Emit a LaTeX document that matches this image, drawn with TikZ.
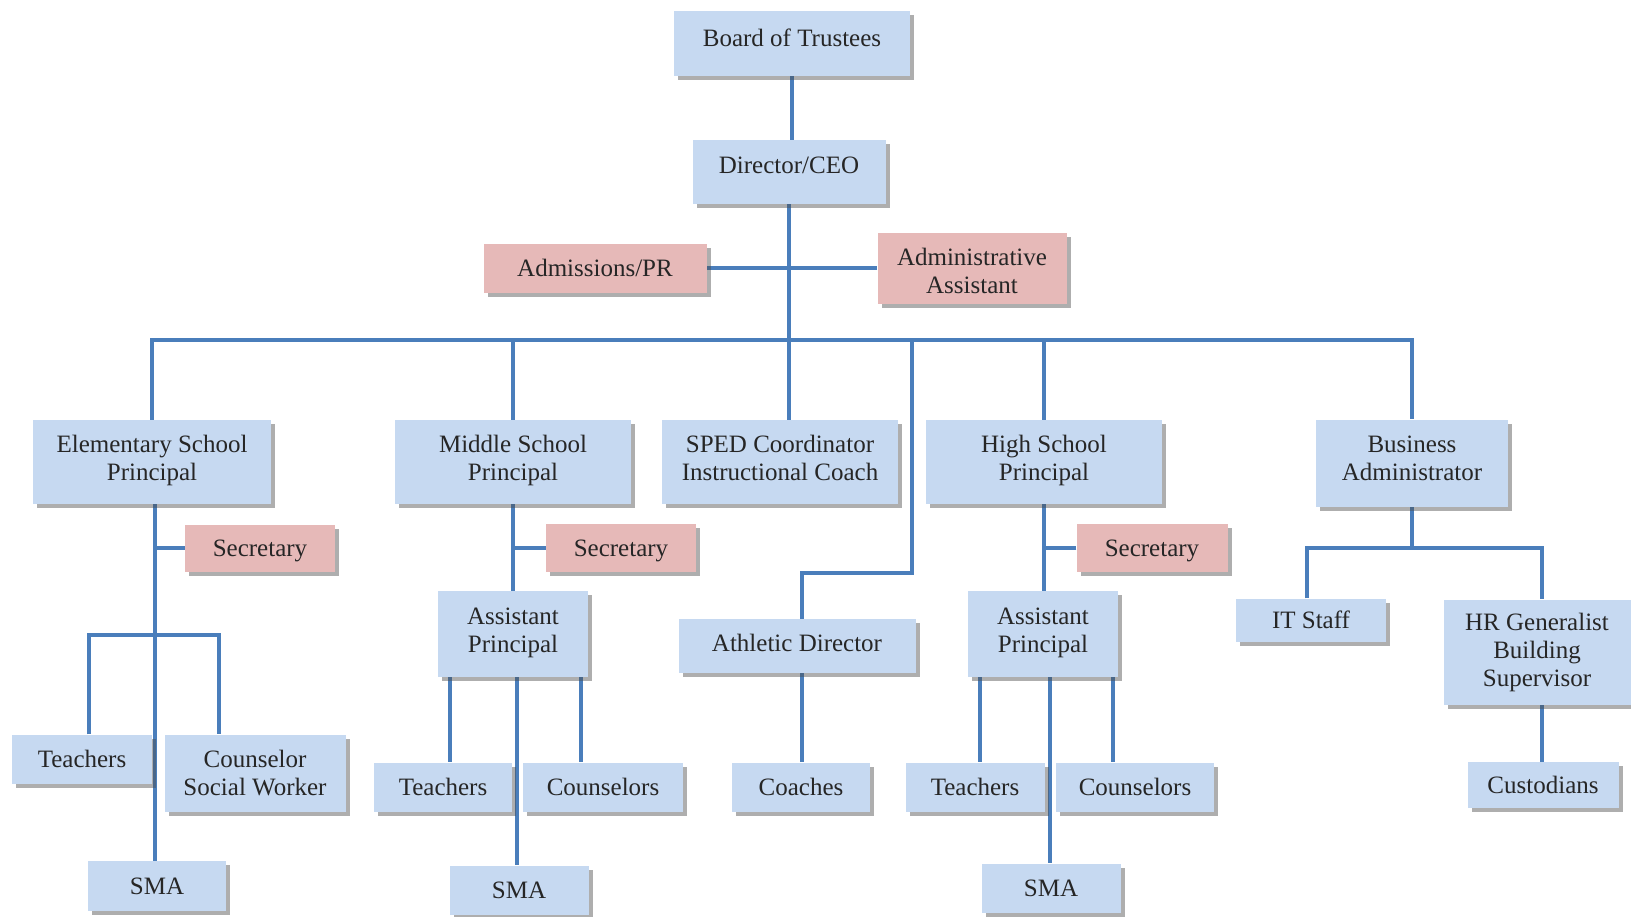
\documentclass[tikz,border=0pt]{standalone}
\usepackage{fontspec}
\setmainfont{Liberation Serif}
\usetikzlibrary{shadows,backgrounds}
\definecolor{boxblue}{HTML}{C6D9F1}
\definecolor{boxpink}{HTML}{E6B9B8}
\definecolor{linkblue}{HTML}{4A7EBB}
\definecolor{txt}{HTML}{262626}
\tikzset{
  unit/.style={draw=none, fill=boxblue, text=txt, align=center, inner sep=0pt,
    font=\fontsize{25}{28}\selectfont,
    drop shadow={shadow xshift=4pt, shadow yshift=-4pt, opacity=0.45, fill=black!70}},
  pinkunit/.style={unit, fill=boxpink},
  link/.style={draw=linkblue, line width=3.5pt},
}
\begin{document}
\begin{tikzpicture}[x=1pt,y=-1pt]
\useasboundingbox (0,0) rectangle (1631,916);
% top
\node[unit, minimum width=236pt, minimum height=65pt, text depth=10pt] (board) at (792,43) {Board of Trustees};
\node[unit, minimum width=193pt, minimum height=64pt, text depth=14pt] (dir) at (789,172) {Director/CEO};
\node[pinkunit, minimum width=223pt, minimum height=49pt] (adm) at (595,268) {Admissions/PR};
\node[pinkunit, minimum width=189pt, minimum height=71pt, text height=51pt] (aa) at (972,268) {Administrative\\Assistant};
% second row
\node[unit, minimum width=238pt, minimum height=84pt, text depth=9pt] (elem) at (152,462) {Elementary School\\Principal};
\node[unit, minimum width=236pt, minimum height=84pt, text depth=9pt] (mid) at (513,462) {Middle School\\Principal};
\node[unit, minimum width=236pt, minimum height=84pt, text depth=8pt] (sped) at (780,462) {SPED Coordinator\\Instructional Coach};
\node[unit, minimum width=236pt, minimum height=84pt, text depth=9pt] (high) at (1044,462) {High School\\Principal};
\node[unit, minimum width=192pt, minimum height=87pt, text depth=10pt] (biz) at (1412,463) {Business\\Administrator};
% elementary branch
\node[pinkunit, minimum width=150pt, minimum height=47pt, text depth=0pt] (esec) at (260,548) {Secretary};
\node[unit, minimum width=140pt, minimum height=49pt] (etch) at (82,759) {Teachers};
\node[unit, minimum width=181pt, minimum height=77pt] (ecou) at (255,773) {Counselor\\Social Worker};
\node[unit, minimum width=138pt, minimum height=50pt] (esma) at (157,886) {SMA};
% middle branch
\node[pinkunit, minimum width=150pt, minimum height=48pt, text depth=0pt] (msec) at (621,548) {Secretary};
\node[unit, minimum width=150pt, minimum height=86pt, text depth=8.5pt] (map) at (513,634) {Assistant\\Principal};
\node[unit, minimum width=138pt, minimum height=49pt] (mtch) at (443,787) {Teachers};
\node[unit, minimum width=160pt, minimum height=49pt] (mcou) at (603,787) {Counselors};
\node[unit, minimum width=139pt, minimum height=49pt] (msma) at (519,890) {SMA};
% athletics
\node[unit, minimum width=237pt, minimum height=54pt, text depth=6pt] (ath) at (797,646) {Athletic Director};
\node[unit, minimum width=138pt, minimum height=49pt] (coach) at (801,787) {Coaches};
% high branch
\node[pinkunit, minimum width=151pt, minimum height=48pt, text depth=0pt] (hsec) at (1152,548) {Secretary};
\node[unit, minimum width=150pt, minimum height=86pt, text depth=8.5pt] (hap) at (1043,634) {Assistant\\Principal};
\node[unit, minimum width=139pt, minimum height=49pt] (htch) at (975,787) {Teachers};
\node[unit, minimum width=158pt, minimum height=49pt] (hcou) at (1135,787) {Counselors};
\node[unit, minimum width=139pt, minimum height=49pt] (hsma) at (1051,888) {SMA};
% business branch
\node[unit, minimum width=150pt, minimum height=43pt] (it) at (1311,620) {IT Staff};
\node[unit, minimum width=187pt, minimum height=105pt] (hr) at (1537,652) {HR Generalist\\Building\\Supervisor};
\node[unit, minimum width=151pt, minimum height=46pt] (cust) at (1543,785) {Custodians};

\coordinate (bus) at (788,340);
\coordinate (athj) at (912,573);
\coordinate (ebr) at (155,635);
\coordinate (bizj) at (1412,548);

\begin{scope}[on background layer]
\draw[link] (board.south) -- (board.south |- dir.north);
\draw[link] (dir.south) -- (dir.south |- bus);
\draw[link] (adm.east) -- (aa.west);
\draw[link] (elem.north) |- (bus) -| (biz.north);
\draw[link] (mid.north) -- (mid.north |- bus);
\draw[link] (dir.south |- bus) -- (dir.south |- sped.north);
\draw[link] (high.north) -- (high.north |- bus);
\draw[link] (athj |- bus) -- (athj) -| ([xshift=5pt]ath.north);
% elementary
\draw[link] ([xshift=3pt]elem.south) -- ([xshift=3pt]elem.south |- esma.north);
\draw[link] (esec.west) -- (esec.west -| ebr);
\draw[link] ([xshift=7pt]etch.north) |- ([xshift=-36pt]ecou.north |- ebr) -- ([xshift=-36pt]ecou.north);
% middle
\draw[link] (mid.south) -- (mid.south |- map.north);
\draw[link] (msec.west) -- (msec.west -| mid.south);
\draw[link] ([xshift=-63pt]map.south) -- ([xshift=-63pt]map.south |- mtch.north);
\draw[link] ([xshift=4pt]map.south) -- ([xshift=4pt]map.south |- msma.north);
\draw[link] ([xshift=68pt]map.south) -- ([xshift=68pt]map.south |- mcou.north);
% athletics
\draw[link] ([xshift=5pt]ath.south) -- ([xshift=5pt]ath.south |- coach.north);
% high
\draw[link] (high.south) -- (high.south |- hap.north);
\draw[link] (hsec.west) -- (hsec.west -| high.south);
\draw[link] ([xshift=-63pt]hap.south) -- ([xshift=-63pt]hap.south |- htch.north);
\draw[link] ([xshift=7pt]hap.south) -- ([xshift=7pt]hap.south |- hsma.north);
\draw[link] ([xshift=70pt]hap.south) -- ([xshift=70pt]hap.south |- hcou.north);
% business
\draw[link] (biz.south) -- (bizj);
\draw[link] ([xshift=-4pt]it.north) |- (bizj) -| ([xshift=5pt]hr.north);
\draw[link] ([xshift=5pt]hr.south) -- ([xshift=5pt]hr.south |- cust.north);
\end{scope}
\end{tikzpicture}
\end{document}
